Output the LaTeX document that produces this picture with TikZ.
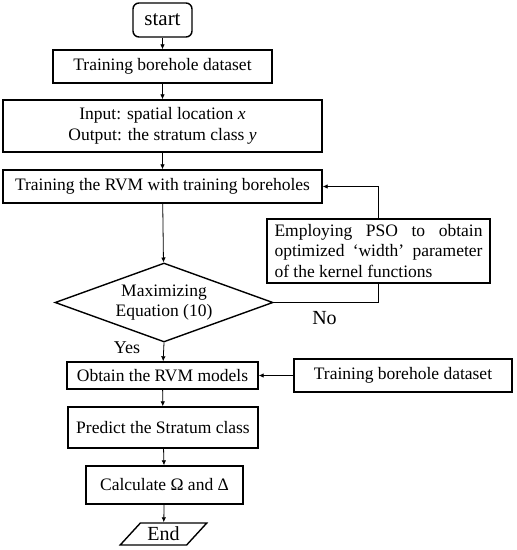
\documentclass[tikz,border=0pt]{standalone}
\usepackage{fontspec}
\setmainfont{Liberation Serif}
\usetikzlibrary{shapes.geometric,arrows.meta}
\begin{document}
\begin{tikzpicture}[x=1pt,y=-1pt,
  every node/.style={font=\fontsize{17.5}{20.5}\selectfont},
  box/.style={draw, line width=1.4pt, inner sep=0pt, align=center},
  conn/.style={line width=0.8pt},
  arr/.style={conn, -{Latex[length=5pt,width=4.5pt]}},
  lbl/.style={inner sep=0pt}]
\useasboundingbox (0,0) rectangle (517,550);
\node[box, rounded corners=6pt, minimum width=59pt, minimum height=34pt, font=\fontsize{21}{24}\selectfont] (start) at (162.5,20) {start};
\node[box, minimum width=219pt, minimum height=33pt] (train1) at (162.5,66.5) {Training borehole dataset};
\node[box, minimum width=319pt, minimum height=52pt] (io) at (162.5,126) {Input: spatial location \textit{x}\\Output: the stratum class \textit{y}};
\node[box, minimum width=319pt, minimum height=33pt] (rvm) at (162.5,186.5) {Training the RVM with training boreholes};
\node[box, diamond, aspect=2.76, minimum width=218pt, minimum height=79pt] (dia) at (164,302.5) {Maximizing\\Equation (10)};
\node[box, minimum width=223pt, minimum height=64pt] (pso) at (378.5,251) {\parbox{208pt}{\fontsize{17.5}{20.5}\selectfont\hyphenpenalty=10000 Employing PSO to obtain\linebreak optimized ‘width’ parameter\linebreak of the kernel functions}};
\node[box, minimum width=191pt, minimum height=27pt] (obtain) at (162.5,375.5) {Obtain the RVM models};
\node[box, minimum width=218pt, minimum height=33pt] (train2) at (403,375.5) {Training borehole dataset};
\node[box, minimum width=190pt, minimum height=41pt] (predict) at (163,427.5) {Predict the Stratum class};
\node[box, minimum width=157pt, minimum height=38pt] (calc) at (164.5,485) {Calculate Ω and Δ};
\node[box, trapezium, trapezium left angle=45, trapezium right angle=135, trapezium stretches=true, minimum width=87pt, minimum height=22pt, font=\fontsize{20}{22}\selectfont] (end) at (163.5,534) {End};
\node[lbl, font=\fontsize{18}{20}\selectfont] (yes) at (127,348) {Yes};
\node[lbl, font=\fontsize{20}{22}\selectfont] (no) at (324.5,318) {No};
\draw[arr] (start) -- (train1);
\draw[arr] (train1) -- (io);
\draw[arr] (io) -- (rvm);
\draw[arr] (rvm) -- (dia);
\draw[conn] (dia.east) -| (pso.south);
\draw[arr] (pso.north) |- (rvm.east);
\draw[arr] (dia.south) -- (obtain);
\draw[arr] (train2) -- (obtain);
\draw[arr] (obtain) -- (predict);
\draw[arr] (predict) -- (calc);
\draw[arr] (calc) -- (end);
\end{tikzpicture}
\end{document}
